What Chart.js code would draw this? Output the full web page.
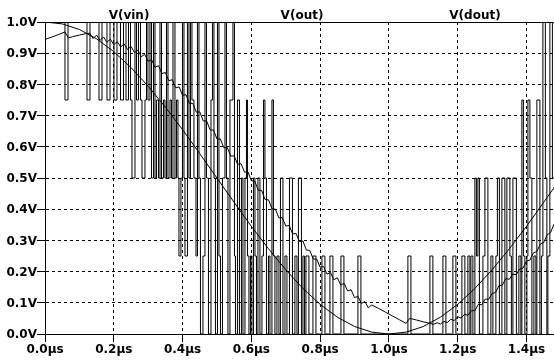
<!DOCTYPE html>
<html>
<head>
<meta charset="utf-8">
<script src="https://cdn.jsdelivr.net/npm/chart.js@4.4.1/dist/chart.umd.min.js"></script>
<style>
  html, body { margin: 0; padding: 0; background: #fff; }
  canvas { display: block; }
</style>
</head>
<body>
<canvas id="myChart" width="554" height="364"></canvas>
<script>
// trace names shown above the plot
const traceNames = ['V(vin)', 'V(out)', 'V(dout)'];

// V(vin), smooth input (µs, V)
const vinT = [0, 0.05, 0.10, 0.15, 0.20, 0.25, 0.30, 0.35, 0.40, 0.45,
  0.50, 0.55, 0.60, 0.65, 0.70, 0.75, 0.80, 0.85, 0.90, 0.95,
  1.00, 1.05, 1.10, 1.15, 1.20, 1.25, 1.30, 1.35, 1.40, 1.45, 1.50];
const vinV = [1.000, 0.994, 0.976, 0.946, 0.905, 0.854, 0.794, 0.727, 0.655, 0.578,
  0.500, 0.422, 0.345, 0.273, 0.206, 0.146, 0.095, 0.054, 0.024, 0.006,
  0.000, 0.006, 0.024, 0.054, 0.095, 0.146, 0.206, 0.273, 0.345, 0.422, 0.500];

// V(out), filtered output with ripple
const outT = [0, 0.02, 0.04, 0.058, 0.068, 0.08, 0.10, 0.12,
  0.13, 0.14, 0.15, 0.16, 0.17, 0.18, 0.19, 0.20, 0.21, 0.22,
  0.23, 0.24, 0.25, 0.26, 0.27, 0.28, 0.29, 0.30, 0.31, 0.32,
  0.33, 0.34, 0.35, 0.36, 0.37, 0.38, 0.39, 0.40, 0.41, 0.42,
  0.43, 0.44, 0.45, 0.46, 0.47, 0.48, 0.49, 0.50, 0.51, 0.52,
  0.53, 0.54, 0.55, 0.56, 0.57, 0.58, 0.59, 0.60, 0.61, 0.62,
  0.63, 0.64, 0.65, 0.66, 0.67, 0.68, 0.69, 0.70, 0.71, 0.72,
  0.73, 0.74, 0.75, 0.76, 0.77, 0.78, 0.79, 0.80, 0.81, 0.82,
  0.83, 0.84, 0.85, 0.86, 0.87, 0.88, 0.89, 0.90, 0.91, 0.92,
  0.93, 0.94, 0.95, 0.97, 0.99, 1.01, 1.03, 1.05, 1.06, 1.08,
  1.10, 1.12, 1.13, 1.14, 1.15, 1.16, 1.17, 1.18, 1.19, 1.20,
  1.21, 1.22, 1.23, 1.24, 1.25, 1.26, 1.27, 1.28, 1.29, 1.30,
  1.31, 1.32, 1.33, 1.34, 1.35, 1.36, 1.37, 1.38, 1.39, 1.40,
  1.41, 1.42, 1.43, 1.44, 1.45, 1.46, 1.47, 1.48];
const outV = [0.944, 0.952, 0.960, 0.968, 0.949, 0.953, 0.958, 0.963,
  0.964, 0.947, 0.958, 0.941, 0.952, 0.935, 0.945, 0.927, 0.937, 0.920,
  0.930, 0.912, 0.922, 0.902, 0.910, 0.889, 0.896, 0.874, 0.879, 0.855,
  0.860, 0.835, 0.838, 0.812, 0.815, 0.789, 0.792, 0.765, 0.767, 0.739,
  0.739, 0.711, 0.712, 0.683, 0.683, 0.654, 0.654, 0.625, 0.625, 0.597,
  0.598, 0.570, 0.571, 0.544, 0.546, 0.519, 0.520, 0.491, 0.490, 0.461,
  0.460, 0.431, 0.430, 0.401, 0.400, 0.372, 0.373, 0.346, 0.348, 0.321,
  0.322, 0.296, 0.298, 0.269, 0.268, 0.240, 0.240, 0.214, 0.216, 0.192,
  0.197, 0.174, 0.180, 0.157, 0.162, 0.138, 0.142, 0.117, 0.120, 0.098,
  0.104, 0.084, 0.093, 0.082, 0.070, 0.058, 0.046, 0.034, 0.050, 0.045,
  0.039, 0.034, 0.031, 0.036, 0.032, 0.040, 0.037, 0.047, 0.043, 0.055,
  0.051, 0.063, 0.060, 0.075, 0.075, 0.095, 0.094, 0.112, 0.111, 0.130,
  0.133, 0.155, 0.157, 0.178, 0.175, 0.192, 0.190, 0.208, 0.211, 0.234,
  0.237, 0.260, 0.264, 0.288, 0.293, 0.318, 0.325, 0.352];

// V(dout), quantized output: each time is where the level changes
const doutT = [
  0, 0.0581, 0.0669, 0.1221, 0.1308, 0.1570, 0.1657, 0.1802, 0.1890, 0.2006,
  0.2093, 0.2195, 0.2282, 0.2355, 0.2427, 0.2485, 0.2529, 0.2616, 0.2660, 0.2718,
  0.2776, 0.2820, 0.2907, 0.2951, 0.2994, 0.3052, 0.3096, 0.3154, 0.3198, 0.3241,
  0.3299, 0.3343, 0.3387, 0.3445, 0.3488, 0.3532, 0.3576, 0.3634, 0.3677, 0.3721,
  0.3779, 0.3823, 0.3866, 0.3895, 0.3953, 0.3997, 0.4041, 0.4070, 0.4142, 0.4186,
  0.4230, 0.4273, 0.4331, 0.4390, 0.4433, 0.4477, 0.4520, 0.4593, 0.4651, 0.4695,
  0.4753, 0.4826, 0.4869, 0.4913, 0.4956, 0.5015, 0.5058, 0.5102, 0.5160, 0.5233,
  0.5276, 0.5320, 0.5378, 0.5465, 0.5509, 0.5538, 0.5596, 0.5654, 0.5712, 0.5756,
  0.5814, 0.5858, 0.5887, 0.5930, 0.5974, 0.6017, 0.6061, 0.6105, 0.6148, 0.6192,
  0.6250, 0.6308, 0.6352, 0.6395, 0.6439, 0.6497, 0.6541, 0.6599, 0.6642, 0.6686,
  0.6744, 0.6802, 0.6846, 0.6919, 0.6977, 0.7035, 0.7108, 0.7195, 0.7267, 0.7326,
  0.7369, 0.7456, 0.7500, 0.7544, 0.7587, 0.7674, 0.7791, 0.7878, 0.8052, 0.8140,
  0.8285, 0.8372, 0.8605, 0.8692, 0.9099, 0.9186, 1.0552, 1.0640, 1.1192, 1.1279,
  1.1570, 1.1657, 1.1860, 1.1948, 1.2122, 1.2209, 1.2297, 1.2355, 1.2384, 1.2442,
  1.2500, 1.2544, 1.2587, 1.2631, 1.2733, 1.2791, 1.2878, 1.2965, 1.3023, 1.3110,
  1.3154, 1.3212, 1.3285, 1.3372, 1.3430, 1.3517, 1.3561, 1.3605, 1.3706, 1.3779,
  1.3837, 1.3866, 1.3910, 1.3953, 1.4012, 1.4041, 1.4099, 1.4157, 1.4215, 1.4273,
  1.4302, 1.4390, 1.4433, 1.4477, 1.4549, 1.4593, 1.4622, 1.4680, 1.4753, 1.4800
];
const doutV = [
  1, 0.75, 1, 0.75, 1, 0.75, 1, 0.75, 1, 0.75,
  1, 0.75, 1, 0.75, 1, 0.75, 0.5, 1, 0.75, 1,
  0.75, 0.5, 0.75, 1, 0.75, 1, 0.5, 1, 0.5, 0.75,
  0.5, 1, 0.5, 0.75, 0.5, 1, 0.5, 0.75, 0.5, 1,
  0.5, 0.75, 0.5, 0.25, 0.5, 1, 0.5, 0.25, 1, 0.5,
  1, 0.75, 0.5, 0.25, 1, 0.5, 0, 0.25, 1, 0.5,
  0, 0.75, 1, 0.5, 0, 1, 0.25, 0, 0.5, 1,
  0.5, 0, 0.75, 1, 0.25, 0, 0.75, 0, 0.5, 0,
  0.5, 0.75, 0.25, 0, 0.25, 0, 0.5, 0.25, 0, 0.5,
  0, 0.25, 0.75, 0.5, 0, 0.25, 0, 0.75, 0.25, 0,
  0.25, 0, 0.5, 0, 0.25, 0, 0.5, 0, 0.25, 0,
  0.5, 0, 0.25, 0, 0.25, 0, 0.25, 0, 0.25, 0,
  0.25, 0, 0.25, 0, 0.25, 0, 0.25, 0, 0.25, 0,
  0.25, 0, 0.25, 0, 0.25, 0, 0.25, 0, 0.25, 0,
  0.5, 0.25, 0.5, 0, 0.25, 0.5, 0, 0.25, 0, 0.25,
  0.5, 0, 0.5, 0, 0.5, 0.25, 0, 0.5, 0, 0.25,
  0, 0.75, 0.25, 0, 0.25, 0.75, 0.5, 0, 0.25, 0,
  0.75, 0, 0.25, 1, 0.5, 0, 0.25, 1, 0.5, 0.5
];

function toPoints(ts, vs) {
  return ts.map((t, i) => ({ x: t, y: vs[i] }));
}

const labelFont = { family: 'DejaVu Sans', size: 12, weight: 'bold' };

// LTspice-like frame: solid top edge and trace names
const frameAndNames = {
  id: 'frameAndNames',
  afterDraw(chart) {
    const { ctx, chartArea } = chart;
    ctx.save();
    ctx.strokeStyle = '#000';
    ctx.lineWidth = 1;
    ctx.beginPath();
    ctx.moveTo(chartArea.left, chartArea.top + 0.5);
    ctx.lineTo(chartArea.right, chartArea.top + 0.5);
    ctx.stroke();
    ctx.fillStyle = '#000';
    ctx.font = 'bold 12px "DejaVu Sans"';
    ctx.textAlign = 'center';
    ctx.textBaseline = 'alphabetic';
    const xs = [129, 302, 475];
    traceNames.forEach((name, i) => ctx.fillText(name, xs[i], 18.5));
    ctx.restore();
  }
};

const lineStyle = {
  borderColor: '#000',
  borderWidth: 1,
  pointRadius: 0,
  fill: false,
  tension: 0
};

new Chart(document.getElementById('myChart'), {
  type: 'line',
  data: {
    datasets: [
      Object.assign({ label: traceNames[2], data: toPoints(doutT, doutV), stepped: 'before' }, lineStyle),
      Object.assign({ label: traceNames[1], data: toPoints(outT, outV) }, lineStyle),
      Object.assign({ label: traceNames[0], data: toPoints(vinT, vinV) }, lineStyle)
    ]
  },
  options: {
    responsive: false,
    animation: false,
    devicePixelRatio: 1,
    parsing: false,
    layout: { padding: { top: 22, right: 0, bottom: 0, left: 0 } },
    plugins: {
      legend: { display: false },
      tooltip: { enabled: false }
    },
    scales: {
      x: {
        type: 'linear',
        min: 0,
        max: 1.48,
        afterFit: (s) => { s.height = 30; },
        ticks: {
          stepSize: 0.2,
          includeBounds: false,
          maxRotation: 0,
          autoSkip: false,
          padding: 1,
          color: '#000',
          font: labelFont,
          callback: (v) => v.toFixed(1) + 'µs'
        },
        grid: { color: '#000', lineWidth: 1, tickLength: 8, tickColor: '#000' },
        border: { display: true, color: '#000', width: 1, dash: [3, 3] }
      },
      y: {
        type: 'linear',
        min: 0,
        max: 1,
        afterFit: (s) => { s.width = 45; },
        ticks: {
          stepSize: 0.1,
          includeBounds: false,
          padding: 0,
          labelOffset: 1,
          color: '#000',
          font: labelFont,
          callback: (v) => v.toFixed(1) + 'V'
        },
        grid: { color: '#000', lineWidth: 1, tickLength: 8, tickColor: '#000' },
        border: { display: true, color: '#000', width: 1, dash: [3, 3] }
      }
    }
  },
  plugins: [frameAndNames]
});
</script>
</body>
</html>
